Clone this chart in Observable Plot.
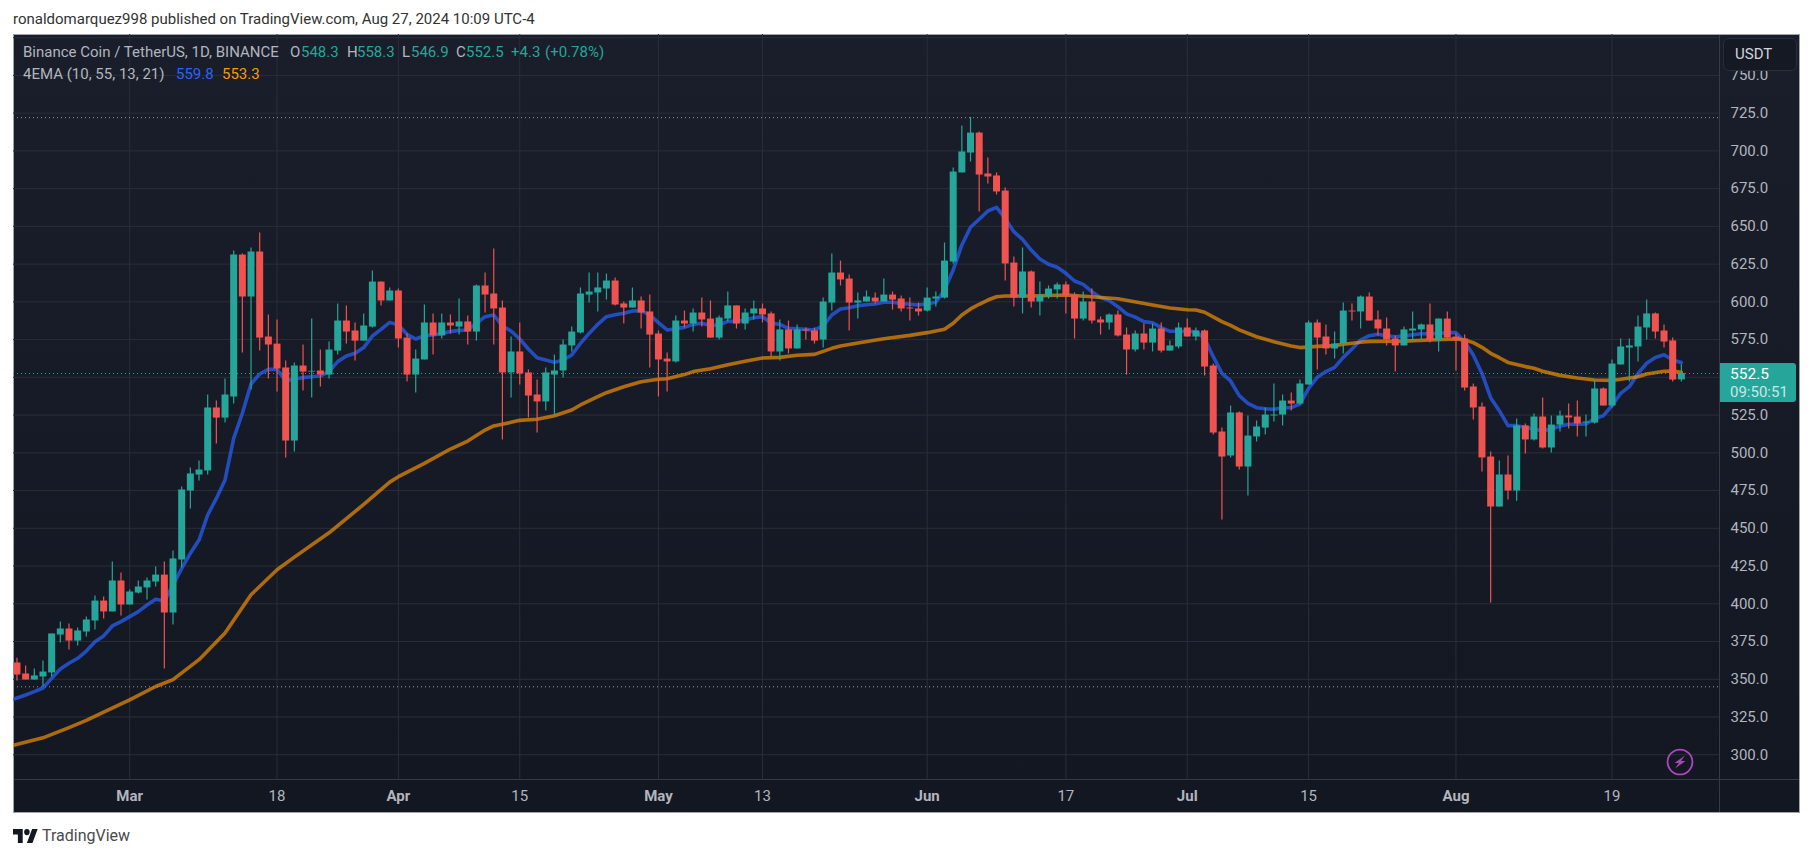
<!DOCTYPE html>
<html>
<head>
<meta charset="utf-8">
<script src="https://cdn.jsdelivr.net/npm/d3@7"></script>
<script src="https://cdn.jsdelivr.net/npm/@observablehq/plot@0.6"></script>
<style>
html,body{margin:0;padding:0;background:#fff;overflow:hidden;width:1814px;height:858px;font-family:Roboto,sans-serif}
.abs{position:absolute;white-space:nowrap;line-height:1}
#panel{position:absolute;left:13px;top:34px;width:1787px;height:779px;box-sizing:border-box;border:1px solid #9ea3ae;background:linear-gradient(#1a1e2a,#131722)}
#sepV{position:absolute;left:1719px;top:35px;width:1px;height:777px;background:#363a45}
#sepH{position:absolute;left:14px;top:779px;width:1785px;height:1px;background:#363a45}
#chart{position:absolute;left:0;top:0}
#usdt{position:absolute;left:1723px;top:38px;width:74px;height:33px;box-sizing:border-box;border:1px solid #2a2e39;border-radius:6px;background:#151923;color:#d1d4dc;font-size:15px;line-height:31px;padding-left:11px}
#tag{position:absolute;left:1720px;top:363px;width:76px;height:39px;background:#26a69a;border-radius:0 3px 3px 0}
</style>
</head>
<body>
<div id="panel"></div><div id="sepV"></div><div id="sepH"></div>
<div id="chart"></div>
<div class="abs" style="left:13px;top:12px;font-size:15px;color:#333">ronaldomarquez998 published on TradingView.com, Aug 27, 2024 10:09 UTC-4</div>
<div id="legend" style="font-size:15px"></div>
<div id="usdt">USDT</div>
<div id="tag"></div>
<div class="abs" style="left:1730px;top:367px;font-size:15.5px;color:#fff">552.5</div>
<div class="abs" style="left:1730px;top:385px;font-size:15px;color:rgba(255,255,255,.75)">09:50:51</div>
<svg class="abs" style="left:1665px;top:747px" width="30" height="30" viewBox="0 0 30 30">
  <circle cx="15" cy="15" r="12.4" fill="none" stroke="#ab47bc" stroke-width="1.8"/>
  <path d="M20 8.5 L9.5 16 H14 L10 21.5 L20.5 14 H16 Z" fill="#ab47bc"/>
</svg>
<svg class="abs" style="left:13px;top:829px" width="25" height="14" viewBox="0 4 36 18" preserveAspectRatio="none">
  <path d="M14 22H7V11H0V4h14v18zM28 22h-8l7.5-18h8L28 22z" fill="#131722"/><circle cx="20" cy="8" r="4" fill="#131722"/>
</svg>
<div class="abs" style="left:42px;top:828px;font-size:16px;color:#4a4a4a">TradingView</div>
<script>
const firstDay = "2024-02-17";
const lastDay = "2024-08-27";
const xDomain = ["2024-02-16T14:24:00Z", "2024-08-31T09:36:00Z"];
const yDomain = [283.6, 777.1];
const gridPrices = d3.range(300, 800, 25);
const labelPrices = d3.range(300, 775, 25).filter(p => p !== 550);
const monthTicks = ["2024-03-01","2024-04-01","2024-05-01","2024-06-01","2024-07-01","2024-08-01"];
const dayTicks = ["2024-03-18","2024-04-15","2024-05-13","2024-06-17","2024-07-15","2024-08-19"];
const lastPrice = 552.5, rangeHigh = 722, rangeLow = 345;

const opens = [
360.8,353.5,349.5,351.5,354.2,379.3,383.3,375.3,381.3,388.6,401.8,394.6,415.1,
399.2,407.1,410.5,414.4,419,393.9,429,474.7,485.3,488,529.7,523,537,631,603.2,633,576.7,572,556.2,507.8,557.5,553.5,554.2,551.5,567.4,587.3,580.7,574,583.3,613.1,600.6,
607.2,576,551.5,561.5,586,577.4,586,583.3,586.7,580,610.5,605.2,595.9,552.9,566.8,552.9,538.3,533.7,551.5,554.2,570.8,579.4,604.5,605.9,608.5,613.8,598.6,595.9,600.6,593.3,
578.7,562.1,560.2,587.3,585.3,592.6,588.6,576,588.6,597.3,585.3,592,595.3,592,566.8,581.4,568.8,581.4,580.7,574.7,599.2,619.1,615.1,599.2,599.9,602.5,599.9,604.5,601.9,595.9,595.3,
593.9,601.9,602.5,626.4,685.4,698.6,711.8,684.7,683.4,673.4,625.7,602.5,619.8,599.9,603.2,607.9,611.2,604.3,588.6,599.9,588,586,591.3,578,568.1,578.7,572.7,582,567.4,570.1,
582.7,576.7,580.7,557.5,513.8,497.9,526.4,490.6,510.5,516.4,524.4,525,534.3,532.3,544.9,586,576.7,568.8,572.1,593.9,593.3,603.2,588,582,575.4,570.8,580.7,581.4,584.7,574.1,588.6,
576.7,575.4,543.6,530.3,497.2,464.1,485.3,474.7,517.8,508.5,523.7,503.2,518.4,524.4,523.7,519.7,519.7,542.3,531,558.2,569.4,570.1,582.7,592,580.7,574.1,548.3];
const highs = [
363.9,358.8,356.8,362.1,380,387.9,386.6,384,391.2,405.2,404.5,427.7,420.4,
409.1,415.1,417.1,424.4,427.7,435,477.4,490,494.6,538.3,534.3,548.9,633.7,631.7,635.7,645.6,591.3,588,560.8,559.5,571.4,588.6,568.1,573.4,598.6,597.3,586,592,620.4,613.1,609.2,
608.5,578.7,568.1,597.9,592,592,591.3,601.9,590.6,611.2,619.1,635,600.6,576.7,586,554.9,548.2,556.2,564.8,574.7,583.3,609.2,619.1,619.1,618.4,615.8,599.9,609.2,603.2,604.5,
580.7,566.1,590.6,593.9,595.3,602.5,600.6,590.6,606.5,597.3,595.3,600.6,598.6,593.3,588,587.3,584.7,582.7,582.7,602.5,631.7,627,617.8,605.9,607.2,605.9,615.1,606.5,603.9,602.5,599.2,
609.2,606.5,639,688.7,716.5,722.2,712.5,695.3,685.4,675.4,629.7,635.7,620.4,613.1,610.5,612.5,613.1,605.9,606.5,608.5,590,592,593.9,582.7,580.7,585.3,585.3,586,574.1,586,
588.6,582.7,581.4,558.8,516.4,531,527,524.4,521.1,529.7,545.6,538.3,539.6,548.2,587.3,588,584.7,580,599.2,598.6,603.9,605.9,593.9,589.3,577.4,583.3,593.3,585.3,598.6,588.6,593.3,
578.7,578,545.6,533,500.5,494.6,497.9,522.4,519.1,525.7,536.3,524.4,527.7,532.3,534.3,525,548.2,542.9,561.5,575.4,575.4,590.6,601.2,592.6,584.7,576,558.3];
const lows = [
348.9,349.5,349.5,345.1,351.5,374,369.4,372,378,382.6,390,394.6,391.9,
399.2,406.5,402.5,411.1,356.8,386,423.7,462.8,481.3,485.3,505.8,519.8,532.3,566.1,541.6,567.4,548.9,540.3,496.6,500.5,540.9,536.3,543.6,548.9,564.8,572.1,560.8,574,582.7,597.3,600.6,
569.4,546.9,539.6,561.5,564.8,575.4,578.7,578,571.4,574,592.6,571.4,508.5,536.3,544.9,523.1,513.1,527.7,524.4,549.6,566.8,578.7,599.2,593.3,601.2,597.2,585.3,595.9,582,556.2,
537,540.3,559.5,582.7,580,583.3,576,574.7,586.7,582,581.4,588,586,563.5,560.8,565.5,568.8,574.7,572.1,569.4,593.9,610.5,580.7,588.6,599.9,598.6,599.9,594.6,593.3,587.3,590.6,
593.3,596.6,601.9,625.1,685.4,692.6,659.5,678.1,670.8,613.8,596.6,592,595.9,590.6,601.9,601.9,592,575.4,587.3,585.3,578,581.4,576.7,551.5,566.8,568.1,566.8,566.1,567.4,568.8,
576.7,574.1,550.9,511.8,455.5,496.6,488.6,471.4,507.2,511.8,520.4,517.8,527.7,531.7,544.9,554.9,564.8,562.1,565.5,587.3,582,587.3,577.4,570.8,553.5,570.8,573.4,574.7,572.7,566.8,575.4,
554.2,540.9,521.7,487.3,400.5,464.1,468.7,468,499.2,507.8,502.5,499.9,513.8,515.8,510.5,510.5,519.1,531,529.7,558.2,546.9,560.2,574.7,575.4,569.4,546.9,546.9];
const closes = [
352.8,349.5,352.2,354.8,380,383.3,375.3,382,389.3,401.8,394.6,415.1,399.2,
407.8,411.1,415.1,419,393.9,429.7,475.4,486,488.6,529.7,523,538.3,631,603.2,633,576,571.4,555.5,507.8,557.5,553.5,554,551.5,568.1,587.3,580,574,584,613.1,600.6,607.2,
575.4,551.5,562.1,586,577.4,586,584,586.7,580,610.5,604.5,595.3,552.9,566.8,552.2,537.6,533.7,552.9,554.2,571.4,580,605.2,606.5,609.2,613.8,597.9,595.9,600.6,592.6,578,
561.5,560.2,587.3,585.3,592.6,588,576,589.3,597.3,585.3,592.6,595.3,591.3,566.8,581.4,568.8,581.4,580.7,574,599.9,619.1,614.5,599.2,600.6,603.2,599.9,604.5,601.2,595.3,595.3,593.3,
602.5,603.2,627,686,699.3,711.8,684,682.7,672.8,625.1,602.5,619.8,599.9,603.9,608.5,611.2,603.9,588.6,599.9,587.3,586,591.3,577.4,568.1,578.7,572.7,582,567.4,570.8,582.7,
576.7,580.7,556.8,513.1,497.2,526.4,490.6,511.1,517.1,525,525,534.3,532.3,545.6,586,576,568.8,572.1,593.9,593.3,603.2,587.3,582,574.7,570.8,581.4,582,584.7,574.1,588.6,576,
574.7,542.9,529.7,496.6,464.1,485.3,474.7,517.8,508.5,523.7,503.2,518.4,524.4,523.1,519.1,520.4,542.3,531,558.8,570.1,570.8,583.3,592,580,573.4,548.2,552.5];

// 4EMA fast line, one value a day from 16 Feb
const emaBlue = [
335.6,337.6,339.6,341.8,344.2,350.6,356.8,360.6,363.9,368.7,374.9,378.7,385.3,388.2,
391.5,394.8,399.2,403,401.8,412.4,423.5,433.4,442.2,458.8,469.8,482,509.6,526.2,545.6,552.2,555.3,555.3,547.8,548.9,549.8,550.4,550.9,553.8,560.4,564.1,565.9,569.7,577.4,581.8,586.4,
584.7,578.5,575.4,577.6,578,579.1,580.3,581.1,581.4,585.8,590.2,591.3,584,580.7,575.4,568.8,563,561.5,559.9,561.5,564.8,572.5,579.1,585.1,590.2,591.5,592.4,593.9,594.2,591.3,
586.2,581.4,582.2,583.1,585.1,585.8,584.4,584.7,587.1,587.1,588,589.5,590.2,585.8,585.1,582.5,582.2,581.8,581.4,584,591.3,595.3,596.1,597.5,598.1,598.6,599.7,599.7,599,598.4,597.9,
598.8,599.7,607.9,621.1,637.7,649.4,654.7,660.2,662.6,655.3,646.5,641.4,634.3,628.4,624.9,622.9,618.9,613.8,611.6,606.7,602.8,600.8,596.8,592,589.9,586.9,586.2,582.9,580.5,580.5,
580.5,580.2,575.8,563.7,552.6,547.6,537.9,532.8,529.9,529.2,528.8,529.9,529.9,532.3,542.7,550,553.8,556.6,563.2,568.8,574.7,577.6,578.5,577.6,576.9,577.6,578.2,578.9,578.9,579.1,579.6,
579.6,573.6,564.8,552.6,536.5,527.9,518,518,516.9,515.6,514.7,515.6,517.8,518.9,518.9,519.1,522.8,524.6,531.2,539.4,543.8,552.6,559.3,563.2,565,561.5,559.8];

// 4EMA slow line, values read where the curve could be seen best
const orangeDates = ["2024-02-16","2024-02-20","2024-02-23","2024-02-25","2024-02-27","2024-03-01","2024-03-04","2024-03-06","2024-03-09","2024-03-12","2024-03-15","2024-03-18","2024-03-20","2024-03-24","2024-03-28","2024-03-31",
"2024-04-01","2024-04-04","2024-04-07","2024-04-09","2024-04-11","2024-04-12","2024-04-14","2024-04-15","2024-04-17","2024-04-19","2024-04-21","2024-04-22","2024-04-24","2024-04-25","2024-04-27","2024-04-29",
"2024-05-01","2024-05-02","2024-05-04","2024-05-05","2024-05-07","2024-05-09","2024-05-11","2024-05-13","2024-05-15","2024-05-17","2024-05-19","2024-05-21","2024-05-22","2024-05-24","2024-05-27","2024-05-30",
"2024-06-01","2024-06-03","2024-06-04","2024-06-05","2024-06-06","2024-06-07","2024-06-08","2024-06-09","2024-06-10","2024-06-13","2024-06-17","2024-06-20","2024-06-23","2024-06-27","2024-06-29",
"2024-07-01","2024-07-02","2024-07-03","2024-07-05","2024-07-06","2024-07-07","2024-07-09","2024-07-11","2024-07-13","2024-07-14","2024-07-16","2024-07-18","2024-07-19","2024-07-21","2024-07-22","2024-07-26","2024-07-29",
"2024-08-01","2024-08-02","2024-08-03","2024-08-04","2024-08-05","2024-08-06","2024-08-07","2024-08-09","2024-08-10","2024-08-11","2024-08-13","2024-08-15","2024-08-17","2024-08-19","2024-08-20","2024-08-22","2024-08-23","2024-08-25","2024-08-26","2024-08-27"];
const orangeValues = [305.5,311.2,318,322.8,328.2,336.4,345.2,349.8,363,380.6,406,422.5,430.9,447,465.8,480.6,
484.2,493,502.5,507.8,515.1,517.8,520.2,521.5,522.2,524.6,528.4,531.7,537.2,539.8,543.8,547.1,
548.7,549.1,551.8,553.8,555.7,558.4,560.6,562.8,563.2,564.6,565.2,569.2,570.8,572.8,575.6,577.8,
579.6,581.8,585.8,591.3,595.3,598.4,601.2,603.4,603.9,603.9,604.5,603.4,602.1,597.9,595.9,
594.8,594.6,593.1,586.9,584.4,581.4,576.9,573.6,570.8,569.7,570.5,571,571.9,573.2,573.8,574,574.7,
575.4,574.7,573,569.9,565.9,563,559.9,557.1,556,554,551.3,549.6,548.2,548,548.7,550.4,552.2,554,554.2,553.3];

const legendItems = [
  ["Binance Coin / TetherUS, 1D, BINANCE",23,53,"#b2b5be"],
  ["O",290,53,"#b2b5be"],["548.3",301,53,"#26a69a"],
  ["H",347,53,"#b2b5be"],["558.3",357,53,"#26a69a"],
  ["L",402,53,"#b2b5be"],["546.9",411,53,"#26a69a"],
  ["C",456,53,"#b2b5be"],["552.5",466,53,"#26a69a"],
  ["+4.3",511,53,"#26a69a"],["(+0.78%)",545,53,"#26a69a"],
  ["4EMA (10, 55, 13, 21)",23,75,"#b2b5be"],
  ["559.8",176,75,"#2962ff"],["553.3",222,75,"#ff9800"]
];
const legend = document.getElementById("legend");
for (const [t,x,y,c] of legendItems) {
  const s = document.createElement("div");
  s.className = "abs"; s.textContent = t;
  s.style.cssText = `left:${x}px;top:${y-8}px;color:${c}`;
  legend.appendChild(s);
}

const parse = s => new Date(s + (s.length === 10 ? "T00:00:00Z" : ""));
const days = d3.utcDay.range(parse(firstDay), d3.utcDay.offset(parse(lastDay), 1));
const candles = days.map((date,i) => ({date, o:opens[i], h:highs[i], l:lows[i], c:closes[i]}));
const up = candles.filter(d => d.c >= d.o), down = candles.filter(d => d.c < d.o);
const blueDays = [d3.utcDay.offset(days[0], -1), ...days];
const blueLine = emaBlue.map((v,i) => ({date:blueDays[i], v}));
const orangeLine = orangeValues.map((v,i) => ({date:parse(orangeDates[i]), v}));
const GREEN="#26a69a", RED="#ef5350", GRID="#2a2e39", AXIS="#b2b5be";
const tickStyle = {anchor:"bottom", tickSize:0, tickPadding:11, color:AXIS, fontSize:15};
const wicks = (data,color) => Plot.ruleX(data,{x:"date",y1:"l",y2:"h",stroke:color,strokeWidth:1.2,clip:true});
const bodies = (data,color) => Plot.ruleX(data,{x:"date",y1:"o",y2:"c",stroke:color,strokeWidth:7,clip:true});

const plot = Plot.plot({
  width:1814, height:858,
  marginLeft:13, marginRight:95, marginTop:34, marginBottom:79,
  style:{background:"transparent",fontFamily:"Roboto, sans-serif",overflow:"visible"},
  x:{type:"utc",domain:xDomain.map(parse),axis:null},
  y:{type:"linear",domain:yDomain,axis:null},
  marks:[
    Plot.gridY(gridPrices,{stroke:GRID,strokeOpacity:1,strokeWidth:1}),
    Plot.gridX([...monthTicks,...dayTicks].map(parse),{stroke:GRID,strokeOpacity:1,strokeWidth:1}),
    Plot.axisX(monthTicks.map(parse),{...tickStyle,tickFormat:d3.utcFormat("%b"),fontWeight:"bold"}),
    Plot.axisX(dayTicks.map(parse),{...tickStyle,tickFormat:d3.utcFormat("%-d")}),
    Plot.axisY(labelPrices,{anchor:"right",tickSize:0,tickPadding:11,color:AXIS,fontSize:15,tickFormat:d=>d.toFixed(1)}),
    Plot.ruleY([rangeHigh,rangeLow],{stroke:"#9598a1",strokeDasharray:"1,3",strokeWidth:1}),
    Plot.ruleY([lastPrice],{stroke:GREEN,strokeDasharray:"1,3",strokeWidth:1}),
    Plot.line(blueLine,{x:"date",y:"v",stroke:"#2962ff",strokeOpacity:.7,strokeWidth:3.6,clip:true,strokeLinejoin:"round"}),
    Plot.line(orangeLine,{x:"date",y:"v",stroke:"#ff9800",strokeOpacity:.65,strokeWidth:3.6,clip:true,strokeLinejoin:"round"}),
    wicks(up,GREEN), wicks(down,RED), bodies(up,GREEN), bodies(down,RED)
  ]
});
document.getElementById("chart").appendChild(plot);
</script>
</body>
</html>
